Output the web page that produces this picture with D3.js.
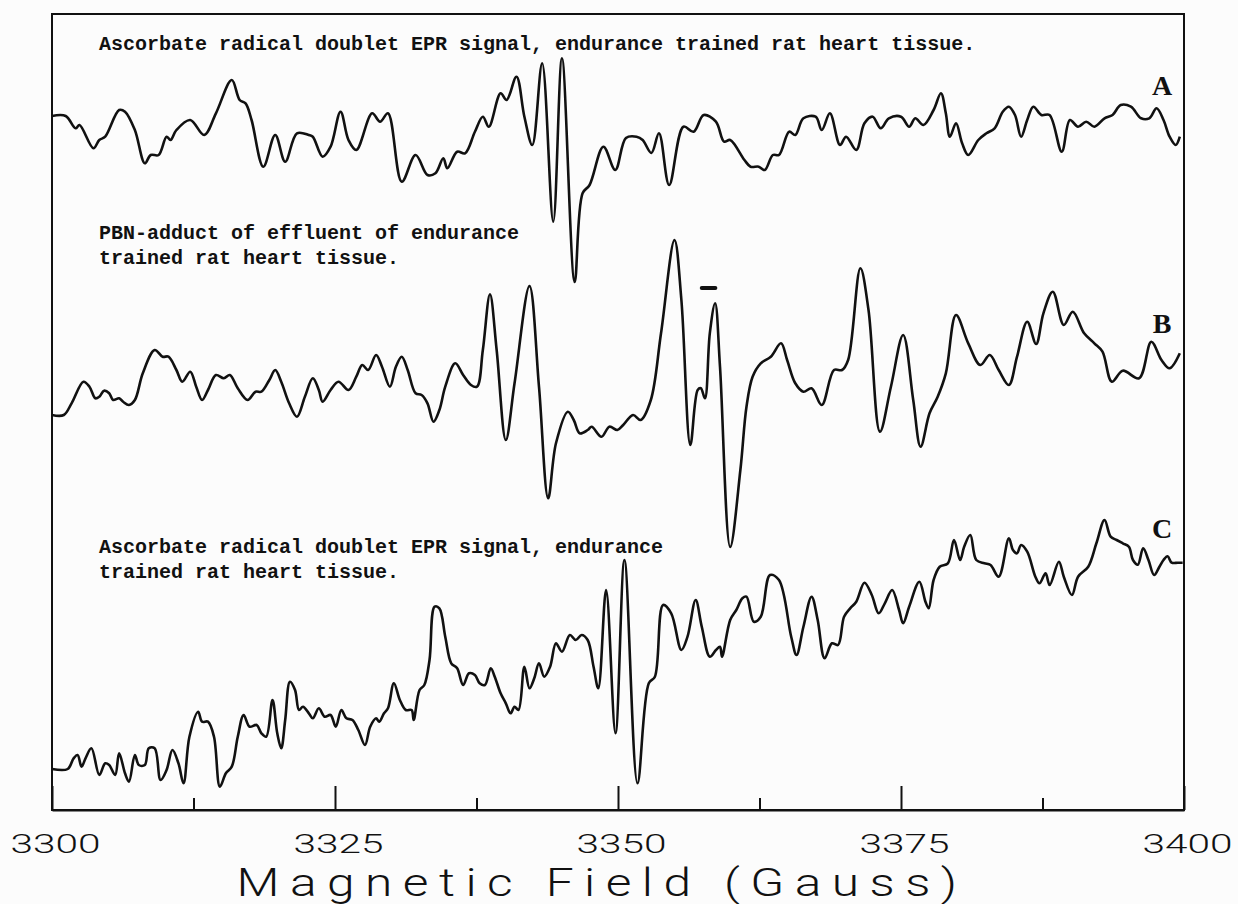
<!DOCTYPE html>
<html>
<head>
<meta charset="utf-8">
<script src="https://cdn.jsdelivr.net/npm/d3@7"></script>
<style>
  body { margin: 0; background: #fff; }
  svg { display: block; }
</style>
</head>
<body>
<div id="chart"></div>
<script>
// EPR spectra, field in Gauss, signal in arbitrary units (relative to each trace's baseline)
const fieldA = [3300.00,3301.21,3302.08,3302.43,3303.66,3304.18,3304.70,3305.93,3306.45,3307.32,3308.20,3308.72,3309.42,3310.12,3310.47,3310.99,3312.21,3313.44,3314.48,3315.88,3316.58,3317.10,3317.63,3318.67,3319.72,3320.60,3321.64,3322.69,3323.04,3323.91,3324.61,3325.49,3326.19,3326.88,3328.28,3328.98,3329.68,3330.90,3332.12,3333.17,3333.87,3334.57,3334.92,3335.79,3336.49,3337.36,3338.06,3338.59,3339.63,3340.16,3341.03,3341.73,3342.43,3343.30,3344.28,3345.05,3346.17,3346.87,3347.49,3348.71,3349.76,3350.70,3351.64,3352.18,3352.95,3353.62,3354.52,3355.78,3356.68,3357.57,3358.65,3359.37,3359.91,3361.17,3361.71,3362.43,3362.97,3363.68,3364.22,3365.12,3365.66,3366.38,3367.46,3368.00,3368.72,3369.61,3370.15,3371.05,3371.77,3372.49,3373.21,3373.93,3375.00,3375.72,3376.26,3376.98,3377.88,3378.53,3378.96,3379.32,3379.86,3380.40,3380.94,3381.83,3382.55,3383.27,3383.99,3384.53,3385.07,3385.61,3386.15,3386.69,3387.40,3388.12,3389.20,3389.92,3390.64,3391.36,3392.08,3392.98,3393.69,3394.41,3395.31,3396.21,3396.93,3397.58,3398.19,3398.73,3399.27,3399.63];
const signalA = [0,0,-12.3,-9,-32.3,-24,-20.7,6,4.3,-14,-47.3,-39,-39,-20.7,-24,-14,-4,-19,2.7,36,16,12.7,-4,-50.7,-19,-45.7,-17.3,-19,-20.7,-40.7,-30.7,4.3,-24,-34,2.7,-5.7,2.7,-65.7,-39,-59,-57.3,-42.3,-52.3,-35.7,-37.3,-15.7,-0.7,-10.7,22.7,16,39.3,-0.7,-29,52.7,-105.7,57.7,-166,-77.3,-69,-30.7,-54,-22,-20.7,-24,-37,-17.3,-69,-10.7,-15.7,1,-5.7,-25.7,-24,-44,-50.7,-50.7,-54,-39,-39,-15.7,-19,-2.3,-0.7,-14,2.7,-29,-20.7,-34,-7.3,-0.7,-12.3,-2.3,-0.7,-10.7,-2.3,-9,6,22.7,2.7,-20.7,-7.3,-27.3,-39,-24,-17.3,-12.3,4.3,9.3,1,-20.7,-4,9.3,1,1,-35.7,-4,-10.7,-5.7,-10.7,-2.3,1,11,9.3,-2.3,-2.3,7.7,-4,-20.7,-29,-20.7];

const fieldB = [3300.00,3301.04,3301.73,3302.78,3303.31,3303.83,3304.18,3304.60,3305.05,3305.40,3305.93,3306.28,3306.80,3307.32,3308.02,3309.07,3309.77,3310.29,3310.99,3311.51,3312.21,3312.74,3313.26,3313.78,3314.48,3315.18,3315.71,3316.41,3317.28,3317.98,3318.50,3319.20,3319.72,3320.25,3320.95,3321.64,3322.34,3323.04,3323.57,3323.91,3324.61,3325.31,3326.19,3326.88,3327.41,3327.93,3328.63,3329.15,3329.85,3330.38,3330.90,3331.42,3332.12,3332.65,3333.17,3333.70,3334.22,3334.74,3335.62,3336.32,3337.01,3337.54,3338.06,3338.69,3339.28,3340.09,3340.86,3342.18,3343.02,3343.83,3344.52,3345.57,3346.09,3346.62,3347.32,3347.67,3348.54,3349.24,3349.94,3350.46,3351.33,3352.00,3352.90,3353.80,3354.99,3355.60,3356.39,3357.04,3357.32,3357.68,3358.11,3358.58,3359.01,3359.91,3360.81,3361.35,3361.89,3362.61,3363.50,3364.40,3364.94,3365.66,3366.38,3367.10,3368.00,3369.08,3369.79,3370.33,3371.41,3372.13,3373.14,3374.11,3375.19,3376.08,3376.73,3377.52,3378.24,3378.96,3379.86,3380.94,3382.01,3382.84,3383.63,3384.53,3385.25,3386.15,3386.94,3387.58,3388.41,3389.38,3390.17,3391.18,3392.08,3392.80,3393.62,3394.59,3396.03,3397.11,3398.01,3398.73,3399.63];
const signalB = [0,0,11.7,33.3,28.3,16.7,18.3,24.3,21.7,15,16.7,13.3,10,15,41.7,65,58.3,58.3,45,33.3,43.3,28.3,15,25,40,36.7,40,26.7,15,23.3,23.3,35,45,33.3,11.7,-1.7,18.3,36.7,25,13.3,25,33.3,25,38.3,50,45,60,48.3,28.3,48.3,58.3,45,21.7,20,11.7,-6.7,5,28.3,51.7,40,30,28.3,65,120.7,65,-25,31.7,129,28.3,-83.3,-28.3,3.3,-5,-18.3,-15,-11.7,-21.7,-11.7,-15,-10,0,-5,15,81.7,175,115,-30,25,26.7,16.7,81.7,111.7,48.3,-132,-55,8.3,38.3,51.7,58.3,71.7,55,31.7,23.3,26.7,10,45,45,55,146.7,105,-16.7,28.3,80,15,-31.7,1.7,18.3,41.7,100,71.7,50,60,45,30,58.3,93.3,71,101.7,123.3,90,103.3,81.7,71.7,63.3,33.3,44.3,36.7,73.3,55,46.7,61.7];

const fieldC = [3300.00,3301.39,3301.91,3302.26,3302.61,3302.96,3303.48,3304.18,3304.70,3305.05,3305.58,3305.93,3306.45,3306.80,3307.32,3307.67,3308.20,3308.55,3309.07,3309.59,3310.12,3310.64,3311.17,3311.62,3312.14,3312.91,3313.26,3313.78,3314.31,3314.83,3315.36,3315.88,3316.41,3316.93,3317.45,3318.08,3318.50,3318.92,3319.48,3319.90,3320.25,3320.60,3321.02,3321.47,3321.82,3322.17,3322.69,3323.04,3323.57,3324.09,3324.61,3325.07,3325.56,3326.01,3326.54,3327.06,3327.65,3328.11,3328.63,3328.91,3329.33,3329.68,3330.20,3330.73,3331.25,3331.77,3331.95,3332.47,3332.89,3333.35,3333.80,3334.22,3334.74,3335.27,3335.79,3336.32,3336.84,3337.36,3337.78,3338.24,3338.76,3339.11,3339.63,3340.09,3340.51,3340.86,3341.21,3341.73,3342.18,3342.60,3343.02,3343.48,3344.00,3344.52,3345.05,3345.75,3346.27,3346.79,3347.32,3347.84,3348.26,3348.95,3349.78,3350.57,3351.72,3352.72,3353.26,3353.98,3354.70,3355.60,3356.14,3356.86,3357.40,3358.11,3358.65,3359.01,3359.19,3359.91,3360.45,3360.99,3361.35,3362.00,3362.61,3363.43,3364.22,3365.30,3365.77,3366.38,3367.10,3367.64,3368.25,3368.90,3369.44,3369.97,3370.51,3371.05,3371.77,3372.42,3373.03,3373.57,3374.22,3374.83,3375.19,3375.72,3376.62,3377.16,3377.45,3377.88,3378.42,3379.14,3379.68,3380.22,3380.58,3381.12,3381.65,3382.37,3382.91,3383.63,3384.53,3384.89,3385.25,3385.61,3386.15,3386.87,3387.23,3387.77,3388.13,3388.95,3389.38,3390.10,3390.64,3391.54,3392.26,3392.98,3393.52,3394.05,3394.59,3395.13,3395.49,3395.92,3396.39,3396.86,3397.36,3397.83,3398.19,3398.55,3398.91,3399.45,3399.88];
const signalC = [0,0,10.7,14,2.3,10.7,20.7,-6,5.7,4,-6,15.7,-4.3,-12.7,14,4,4,20.7,20.7,-11,-1,19,5.7,-14.3,32.3,57.3,47.3,47.3,32.3,-17.7,-4.3,2.3,32.3,54,42.3,44,35.7,32.3,69,35.7,20.7,49,87.3,79,59,62.3,55.7,50.7,60.7,52.3,54,42.3,59,50.7,49,39,24,42.3,50.7,47.3,55.7,60.7,85.7,69,59,59,49,79,84,109,162.3,160.7,132.3,105.7,100.7,84,95.7,94,85.7,84,100.7,92.3,75.7,65.7,55.7,62.3,59,102.3,80.7,90.7,105.7,92.3,102.3,125.7,117.3,134,129,134,129,102.3,80.7,179,35.7,209,-14.3,85.7,92.3,164,155.7,119,132.3,169,142.3,112.3,119,122.3,112.3,149,159,170.7,172.3,147.3,152.3,194,189,132.3,114,142.3,172.3,149,110.7,125.7,124,152.3,160.7,167.3,186.3,174,155.7,165.7,179,159,145.7,162.3,187.3,167.3,160.7,189,202.3,205.7,229,209,222.3,234,209,205.7,204,192.3,230.7,219,215.7,224,217.3,192.3,185.7,195.7,184,207.3,192.3,174,192.3,202.3,225.7,249,232.3,229,225.7,222.3,209,204.3,220.7,209,194,202.3,209,212.7,206.3,206.3,206.3];

// baseline level of each trace on the shared vertical scale
const traceOffsets = [694, 395, 41];
const traceLetters = ["A", "B", "C"];
const markB = [3357.4, 3358.6];   // short bar drawn above trace B
const markLevelB = 127;

const majorTicks = [3300, 3325, 3350, 3375, 3400];
const minorTicks = [3312.5, 3337.5, 3362.5, 3387.5];
const captionA = ["Ascorbate radical doublet EPR signal, endurance trained rat heart tissue."];
const captionB = ["PBN-adduct of effluent of endurance", "trained rat heart tissue."];
const captionC = ["Ascorbate radical doublet EPR signal, endurance", "trained rat heart tissue."];
const axisTitle = "Magnetic Field (Gauss)";

const width = 1238, height = 904;
const plotLeft = 52, plotRight = 1184, plotTop = 14, plotBottom = 810;

const svg = d3.select("#chart").append("svg")
    .attr("width", width)
    .attr("height", height);

svg.append("rect")
    .attr("width", width).attr("height", height)
    .attr("fill", "#fcfcfc");

const x = d3.scaleLinear().domain([3300, 3400]).range([plotLeft, plotRight]);
const y = d3.scaleLinear().domain([0, 796]).range([plotBottom, plotTop]);

// frame
svg.append("rect")
    .attr("x", plotLeft).attr("y", plotTop)
    .attr("width", plotRight - plotLeft).attr("height", plotBottom - plotTop)
    .attr("fill", "none")
    .attr("stroke", "#111")
    .attr("stroke-width", 2);

// traces
const traces = [d3.zip(fieldA, signalA), d3.zip(fieldB, signalB), d3.zip(fieldC, signalC)];

traces.forEach(function(data, i) {
  const line = d3.line()
      .x(function(d) { return x(d[0]); })
      .y(function(d) { return y(traceOffsets[i] + d[1]); })
      .curve(d3.curveCatmullRom.alpha(0.5));

  svg.append("path")
      .datum(data)
      .attr("d", line)
      .attr("fill", "none")
      .attr("stroke", "#111")
      .attr("stroke-width", 2.6)
      .attr("stroke-linejoin", "round");
});

// little bar above the B trace
svg.append("line")
    .attr("x1", x(markB[0])).attr("x2", x(markB[1]))
    .attr("y1", y(traceOffsets[1] + markLevelB)).attr("y2", y(traceOffsets[1] + markLevelB))
    .attr("stroke", "#111")
    .attr("stroke-width", 4)
    .attr("stroke-linecap", "round");

// captions
function caption(lines, y0) {
  svg.append("g").selectAll("text")
    .data(lines)
    .enter()
    .append("text")
      .attr("x", 99)
      .attr("y", function(d, i) { return y0 + i * 25; })
      .attr("font-family", "'Liberation Mono', 'Courier New', monospace")
      .attr("font-weight", "bold")
      .attr("font-size", 20)
      .attr("fill", "#111")
      .text(function(d) { return d; });
}
caption(captionA, 50);
caption(captionB, 239);
caption(captionC, 553);

// trace letters
const letterY = [95, 333, 538];
svg.append("g").selectAll("text")
  .data(traceLetters)
  .enter()
  .append("text")
    .attr("x", 1162)
    .attr("y", function(d, i) { return letterY[i]; })
    .attr("text-anchor", "middle")
    .attr("font-family", "'Liberation Serif', 'Times New Roman', serif")
    .attr("font-weight", "bold")
    .attr("font-size", 28)
    .attr("fill", "#111")
    .text(function(d) { return d; });

// axis: ticks point up into the frame
const axisMajor = svg.append("g")
    .attr("transform", "translate(0," + plotBottom + ")")
    .call(d3.axisBottom(x)
      .tickValues(majorTicks)
      .tickSizeInner(-24)
      .tickSizeOuter(0)
      .tickFormat(d3.format("d")));

axisMajor.select(".domain").attr("stroke", "#111").attr("stroke-width", 2);
axisMajor.selectAll(".tick line").attr("stroke", "#111").attr("stroke-width", 2);
axisMajor.selectAll(".tick text")
    .attr("y", 43)
    .attr("dy", 0)
    .attr("dx", 3)
    .attr("fill", "#111")
    .attr("font-family", "Roboto, 'DejaVu Sans', sans-serif")
    .attr("font-weight", 300)
    .attr("font-size", 25)
    .attr("textLength", 90)
    .attr("lengthAdjust", "spacingAndGlyphs");

const axisMinor = svg.append("g")
    .attr("transform", "translate(0," + plotBottom + ")")
    .call(d3.axisBottom(x)
      .tickValues(minorTicks)
      .tickSizeInner(-12)
      .tickSizeOuter(0)
      .tickFormat(""));
axisMinor.select(".domain").remove();
axisMinor.selectAll(".tick line").attr("stroke", "#111").attr("stroke-width", 2);

svg.append("text")
    .attr("x", 602)
    .attr("y", 896)
    .attr("text-anchor", "middle")
    .attr("font-family", "Roboto, 'DejaVu Sans', sans-serif")
    .attr("font-weight", 300)
    .attr("font-size", 38)
    .attr("letter-spacing", 8)
    .attr("fill", "#111")
    .attr("textLength", 731)
    .attr("lengthAdjust", "spacingAndGlyphs")
    .text(axisTitle);
</script>
</body>
</html>
